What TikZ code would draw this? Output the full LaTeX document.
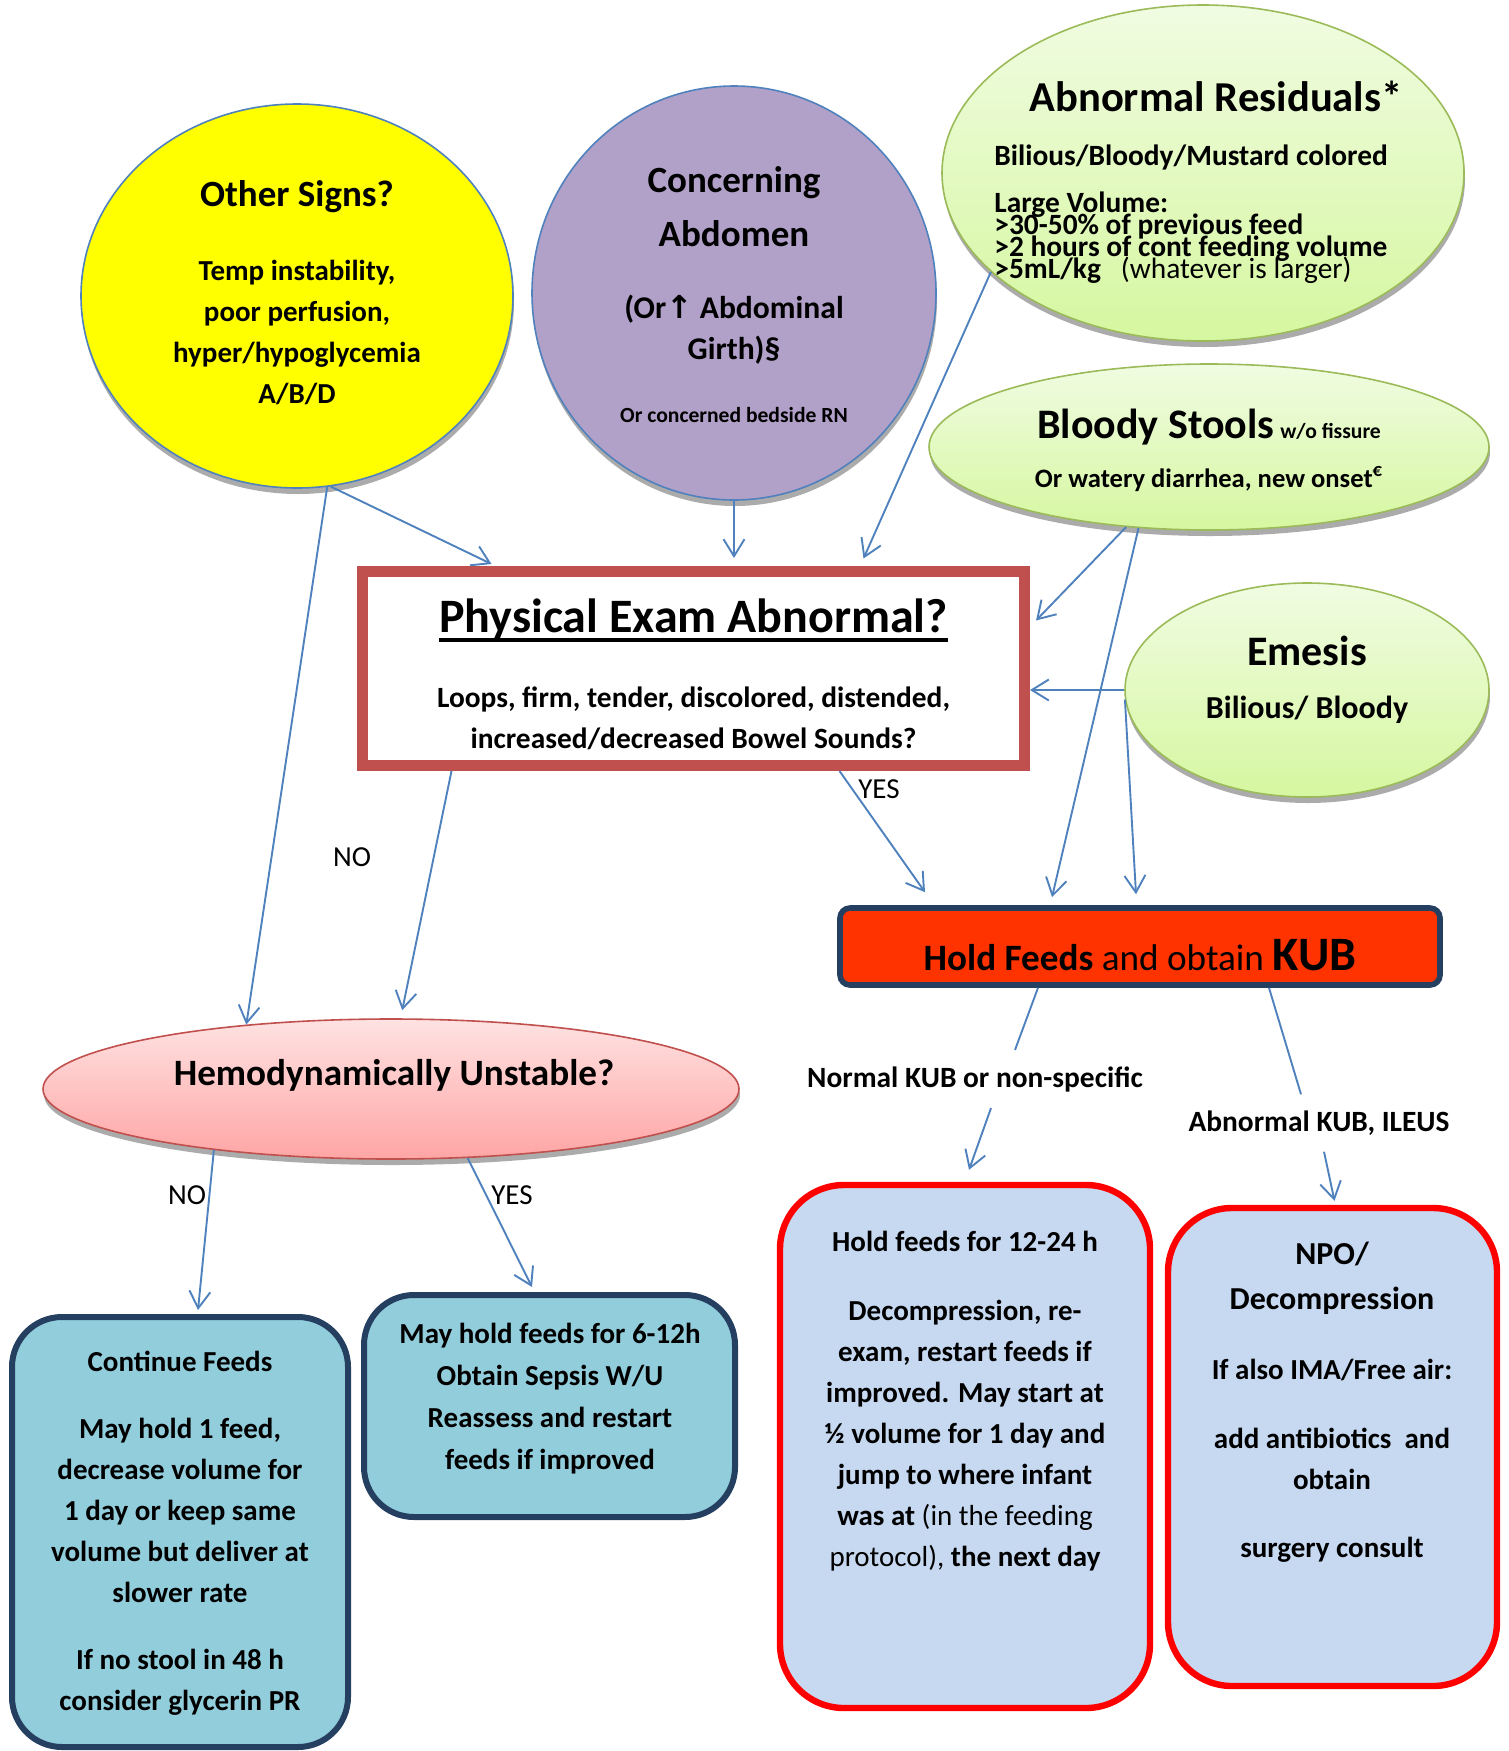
\documentclass[tikz,border=0pt]{standalone}
\usepackage{fontspec}
\setmainfont{Carlito}
\newfontfamily\arrowfont{DejaVu Sans}
\usepackage{tikz}
\usetikzlibrary{shapes.geometric}
\usetikzlibrary{shadows}
\usetikzlibrary{arrows.meta}

\definecolor{lineblue}{RGB}{79,129,189}
\definecolor{signyellow}{RGB}{255,255,0}
\definecolor{abdopurple}{RGB}{177,160,199}
\definecolor{greentop}{RGB}{240,252,226}
\definecolor{greenbot}{RGB}{214,247,160}
\definecolor{greenline}{RGB}{155,187,89}
\definecolor{pinktop}{RGB}{255,226,226}
\definecolor{pinkbot}{RGB}{255,165,165}
\definecolor{examred}{RGB}{192,80,77}
\definecolor{kubred}{RGB}{255,51,0}
\definecolor{navy}{RGB}{36,63,96}
\definecolor{tealfill}{RGB}{146,205,220}
\definecolor{paleblue}{RGB}{198,217,241}
\definecolor{brightred}{RGB}{255,0,0}

\newcommand{\bodyfnt}{\fontsize{14.5}{20.5}\selectfont\bfseries}
\newcommand{\headfnt}{\fontsize{18.5}{22}\selectfont\bfseries}
\newcommand{\bighead}{\fontsize{21.3}{25}\selectfont\bfseries}
\newcommand{\tightfnt}{\fontsize{14.7}{11}\selectfont\bfseries\setlength{\lineskiplimit}{-30pt}}
\newcommand{\thickul}[1]{\sbox0{#1}\rlap{\rule[-4.5pt]{\wd0}{1.8pt}}\usebox0}

\tikzset{
  blob/.style={ellipse, inner sep=0pt, line width=0.8pt,
    drop shadow={shadow xshift=0.5pt, shadow yshift=-3pt, opacity=0.55, fill=black!60}},
  greenblob/.style={blob, draw=greenline, top color=greentop, bottom color=greenbot},
  tealbox/.style={rectangle, rounded corners=25pt, draw=navy, fill=tealfill, line width=3pt},
  redbox/.style={rectangle, rounded corners=32pt, draw=brightred, fill=paleblue, line width=3.2pt},
  txt/.style={inner sep=0pt, align=center, font=\bodyfnt},
  lbl/.style={inner sep=0pt, font=\fontsize{14.5}{17}\selectfont},
  link/.style={draw=lineblue, line width=0.95pt},
  conn/.style={link, -{Straight Barb[length=8.5pt,width=10.5pt,line width=0.95pt]}},
}

\begin{document}
\begin{tikzpicture}[x=0.5pt,y=-0.5pt]
\useasboundingbox (0,0) rectangle (1509,1751);

%Shape: Ellipse [other signs]
\node[blob, draw=lineblue, fill=signyellow, minimum width=216pt, minimum height=192pt] (other) at (297,296) {};
%Shape: Ellipse [abdomen]
\node[blob, draw=lineblue, fill=abdopurple, minimum width=202pt, minimum height=207pt] (abdo) at (734,293) {};
%Shape: Ellipse [residuals]
\node[greenblob, minimum width=261pt, minimum height=168pt] (resid) at (1203,173) {};
%Shape: Ellipse [stools]
\node[greenblob, minimum width=280pt, minimum height=83pt] (stool) at (1209,447) {};
%Shape: Ellipse [emesis]
\node[greenblob, minimum width=182pt, minimum height=107pt] (emesis) at (1307,690) {};
%Shape: Ellipse [unstable]
\node[blob, draw=examred, top color=pinktop, bottom color=pinkbot, minimum width=348pt, minimum height=70pt] (hemo) at (391,1089) {};

%Shape: Rectangle [exam]
\node[rectangle, draw=examred, fill=white, line width=5.5pt, minimum width=331pt, minimum height=97pt] (exam) at (693.5,668.5) {};
%Shape: Rectangle [kub]
\node[rectangle, rounded corners=5pt, draw=navy, fill=kubred, line width=2.8pt, minimum width=300pt, minimum height=38.5pt] (kub) at (1140,946.5) {};
%Shape: Rectangle [continue]
\node[tealbox, minimum width=168pt, minimum height=215pt] (cont) at (180,1532) {};
%Shape: Rectangle [may hold]
\node[tealbox, minimum width=185.5pt, minimum height=111pt] (mayhold) at (549.5,1406) {};
%Shape: Rectangle [hold 12-24]
\node[redbox, minimum width=185pt, minimum height=261.5pt] (hold12) at (965,1446.5) {};
%Shape: Rectangle [npo]
\node[redbox, minimum width=164.5pt, minimum height=239pt] (npo) at (1332.5,1447) {};

% Text Node
\node[txt] (othertxt) at (297,293) {{\headfnt Other Signs?}\\[16.5pt] Temp instability,\\ poor perfusion,\\ hyper/hypoglycemia\\ A/B/D};
% Text Node
\node[txt, font=\fontsize{15.8}{20.5}\selectfont\bfseries] (abdotxt) at (734,295) {{\headfnt Concerning}\\[6.5pt] {\headfnt Abdomen}\\[15.5pt] (Or{\arrowfont ↑} Abdominal\\ Girth)§\\[11pt] {\fontsize{10.8}{13}\selectfont Or concerned bedside RN}};
% Text Node
\node[txt, font=\bighead] (residhead) at (1216,96) {Abnormal Residuals*};
% Text Node
\node[txt, anchor=west, align=left, font=\tightfnt] (residbody) at (994,214) {Bilious/Bloody/Mustard colored\\[12.5pt] Large Volume:\\ >30-50\% of previous feed\\ >2 hours of cont feeding volume\\ >5mL/kg\ \ \ {\mdseries (whatever is larger)}};
% Text Node
\node[txt, font=\fontsize{13.3}{24.5}\selectfont\bfseries] (stooltxt) at (1209,450) {{\fontsize{21}{24}\selectfont Bloody Stools} {\fontsize{10.8}{12}\selectfont w/o fissure}\\ Or watery diarrhea, new onset\textsuperscript{€}};
% Text Node
\node[txt, font=\fontsize{16}{26.5}\selectfont\bfseries] (emesistxt) at (1307,680) {{\fontsize{21}{24}\selectfont Emesis}\\ Bilious/ Bloody};
% Text Node
\node[txt, font=\fontsize{14.7}{20.5}\selectfont\bfseries] (examtxt) at (693.5,674.5) {{\fontsize{24}{28}\selectfont\thickul{Physical Exam Abnormal?}}\\[16.7pt] Loops, firm, tender, discolored, distended,\\ increased/decreased Bowel Sounds?};
% Text Node
\node[txt, font=\fontsize{18.6}{22}\selectfont] (kubtxt) at (1140,955) {{\bfseries Hold Feeds} and obtain {\fontsize{24}{28}\selectfont\bfseries KUB}};
% Text Node
\node[txt, font=\fontsize{18.6}{22}\selectfont\bfseries] (hemotxt) at (394,1075) {Hemodynamically Unstable?};
% Text Node
\node[txt, inner ysep=8pt, inner xsep=2pt, font=\fontsize{14.7}{17}\selectfont\bfseries] (norm) at (975,1079) {Normal KUB or non-specific};
% Text Node
\node[txt, inner ysep=8pt, inner xsep=2pt, font=\fontsize{14.7}{17}\selectfont\bfseries] (abn) at (1319,1123) {Abnormal KUB, ILEUS};
% Text Node
\node[txt] (conttxt) at (180,1533) {Continue Feeds\\[13pt] May hold 1 feed,\\ decrease volume for\\ 1 day or keep same\\ volume but deliver at\\ slower rate\\[13pt] If no stool in 48 h\\ consider glycerin PR};
% Text Node
\node[txt, font=\fontsize{14.5}{21}\selectfont\bfseries] (maytxt) at (550,1399) {May hold feeds for 6-12h\\ Obtain Sepsis W/U\\ Reassess and restart\\ feeds if improved};
% Text Node
\node[txt] (holdtxt) at (965,1401) {Hold feeds for 12-24 h\\[14pt] Decompression, re-\\ exam, restart feeds if\\ improved. May start at\\ ½ volume for 1 day and\\ jump to where infant\\ was at {\mdseries (in the feeding}\\ {\mdseries protocol),} the next day};
% Text Node
\node[txt] (npotxt) at (1332,1402) {{\fontsize{16}{20}\selectfont NPO/}\\[2pt] {\fontsize{16}{20}\selectfont Decompression}\\[14.5pt] If also IMA/Free air:\\[14pt] add antibiotics\ \ and\\ obtain\\[13.5pt] surgery consult};
% Text Node
\node[lbl] (yes1) at (879,789) {YES};
% Text Node
\node[lbl] (no1) at (352,857) {NO};
% Text Node
\node[lbl] (no2) at (187,1195) {NO};
% Text Node
\node[lbl] (yes2) at (512,1195) {YES};

%Straight Lines
\draw[conn] (other.-80) -- ([xshift=-101pt,yshift=1pt]exam.north);
\draw[conn] (other.-81) -- (hemo.156);
\draw[conn] (abdo.south) -- ([xshift=20.25pt,yshift=4pt]exam.north);
\draw[conn] (resid.205) -- ([xshift=85pt,yshift=3.75pt]exam.north);
\draw[conn] (stool.224) -- ([xshift=3pt,yshift=24pt]exam.east);
\draw[conn] (stool.229) -- ([xshift=-44pt,yshift=4pt]kub.north);
\draw[conn] (emesis.west) -- (emesis.west -| exam.east);
\draw[conn] (emesis.183) -- ([xshift=-2pt,yshift=5.5pt]kub.north);
\draw[conn] ([xshift=73pt]exam.south) -- ([xshift=-107.5pt,yshift=6.5pt]kub.north);
\draw[conn] ([xshift=-121pt]exam.south) -- ([yshift=4pt]hemo.81);
%Straight Lines
\draw[link] ([xshift=-51pt]kub.south) -- ([xshift=20pt]norm.north);
\draw[conn] ([xshift=8pt]norm.south) -- ([xshift=2pt,yshift=6pt]hold12.north);
\draw[link] ([xshift=64.5pt]kub.south) -- ([xshift=-9pt]abn.north);
\draw[conn] ([xshift=2.5pt]abn.south) -- ([xshift=1pt,yshift=2pt]npo.north);
%Straight Lines
\draw[conn] (hemo.199) -- ([xshift=9pt,yshift=2pt]cont.north);
\draw[conn] (hemo.-42) -- ([xshift=-8.75pt,yshift=2.5pt]mayhold.north);

\end{tikzpicture}
\end{document}
